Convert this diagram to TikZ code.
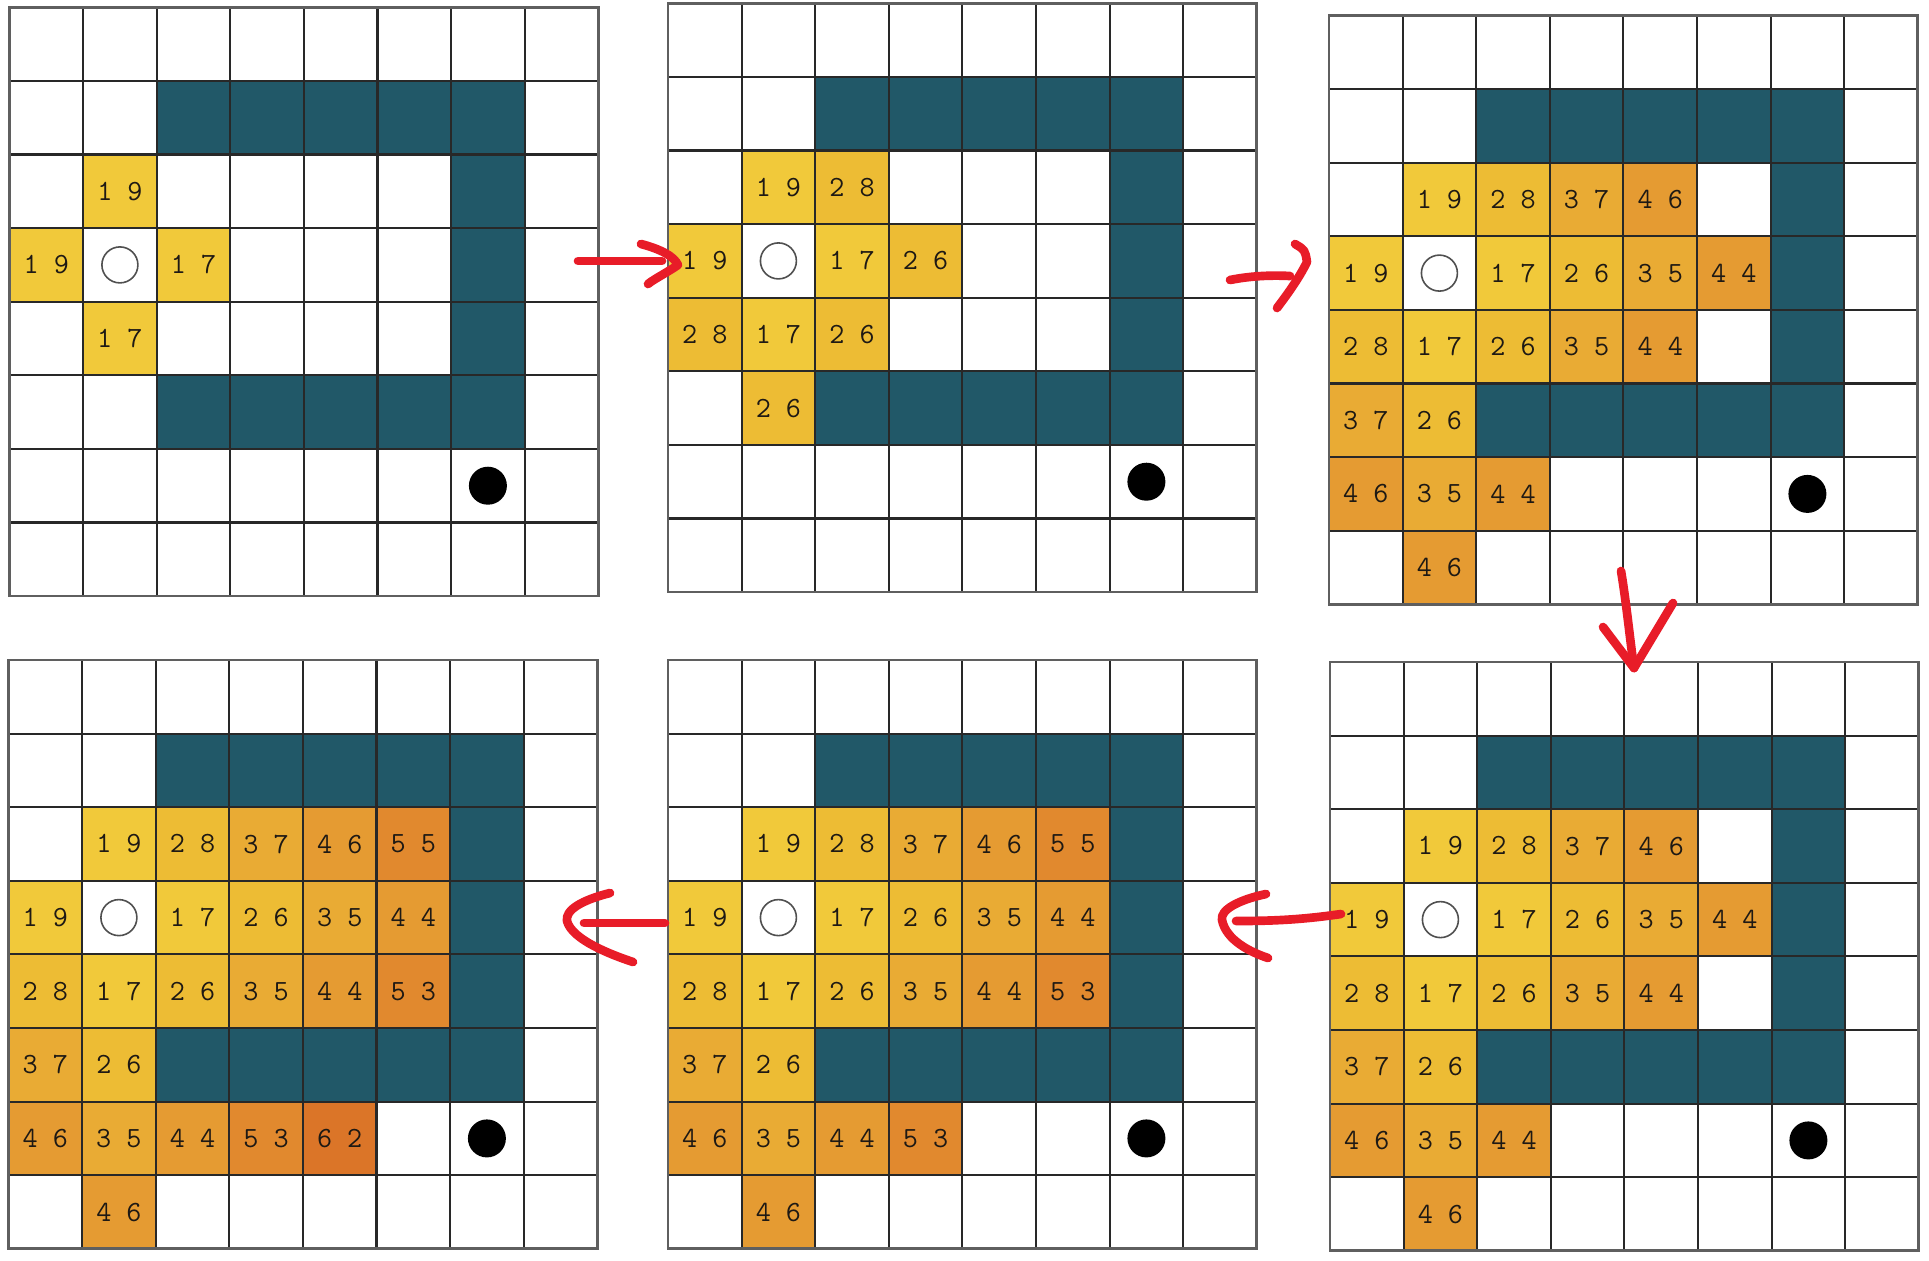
\documentclass[tikz,border=0pt]{standalone}
\usepackage{xcolor}

\definecolor{wallteal}{RGB}{33,88,104}
\definecolor{gold1}{RGB}{241,201,58}
\definecolor{gold2}{RGB}{237,188,52}
\definecolor{gold3}{RGB}{233,171,52}
\definecolor{gold4}{RGB}{229,155,50}
\definecolor{gold5}{RGB}{225,137,46}
\definecolor{gold6}{RGB}{219,117,40}
\definecolor{penred}{RGB}{232,28,40}

\tikzset{every picture/.style={line width=0.75pt}}
\tikzset{
  gridline/.style={draw={rgb, 255:red, 40; green, 40; blue, 40}, line width=1.6pt},
  frameline/.style={draw={rgb, 255:red, 95; green, 95; blue, 95}, line width=2pt},
  numtext/.style={font=\fontsize{22}{26}\ttfamily, text={rgb, 255:red, 30; green, 25; blue, 20}, inner sep=0pt},
  startmark/.style={circle, draw={rgb, 255:red, 80; green, 80; blue, 80}, fill=white, line width=1.2pt, minimum size=27pt, inner sep=0pt},
  goalmark/.style={circle, fill=black, minimum size=28.5pt, inner sep=0pt},
  penstroke/.style={draw=penred, line width=6.5pt, line cap=round, line join=round},
}

% cell with a value: grid, col, row, colour, text
\newcommand{\valcell}[5]{%
  \fill[#4] ({#2*73.6},{#3*73.6}) rectangle ++(73.6,73.6);
  \node[numtext] (g#1v#2#3) at ({(#2+0.5)*73.6},{(#3+0.5)*73.6}) {#5};}

\newcommand{\wallcells}{%
  \foreach \c in {2,...,6} {
    \fill[wallteal] ({\c*73.6},73.6) rectangle ++(73.6,73.6);
    \fill[wallteal] ({\c*73.6},{5*73.6}) rectangle ++(73.6,73.6);}
  \fill[wallteal] ({6*73.6},{2*73.6}) rectangle ++(73.6,{3*73.6});}

\newcommand{\gridlines}{%
  \foreach \k in {1,...,7} {
    \draw[gridline] ({\k*73.6},0) -- ({\k*73.6},588.8);
    \draw[gridline] (0,{\k*73.6}) -- (588.8,{\k*73.6});}
  \draw[frameline] (0,0) rectangle (588.8,588.8);}

\newcommand{\startgoal}[1]{%
  \node[startmark] (g#1start) at ({1.5*73.6},{3.5*73.6}) {};
  \node[goalmark] (g#1goal) at ({6.5*73.6},{6.5*73.6}) {};}

% cells reached by the third step
\newcommand{\thirdcells}[1]{%
  \foreach \c/\r/\k/\t in {1/2/gold1/{1 9},2/2/gold2/{2 8},3/2/gold3/{3 7},4/2/gold4/{4 6},
      0/3/gold1/{1 9},2/3/gold1/{1 7},3/3/gold2/{2 6},4/3/gold3/{3 5},5/3/gold4/{4 4},
      0/4/gold2/{2 8},1/4/gold1/{1 7},2/4/gold2/{2 6},3/4/gold3/{3 5},4/4/gold4/{4 4},
      0/5/gold3/{3 7},1/5/gold2/{2 6},
      0/6/gold4/{4 6},1/6/gold3/{3 5},2/6/gold4/{4 4},
      1/7/gold4/{4 6}}
    {\valcell{#1}{\c}{\r}{\k}{\t}}}

\begin{document}
\begin{tikzpicture}[x=0.75pt,y=0.75pt,yscale=-1]
\useasboundingbox (0,0) rectangle (1929,1260);
\fill[white] (0,0) rectangle (1929,1260);

% Grid 1
\begin{scope}[shift={(9.5,7.3)}]
\wallcells
\foreach \c/\r/\t in {1/2/{1 9},0/3/{1 9},2/3/{1 7},1/4/{1 7}}
  {\valcell{1}{\c}{\r}{gold1}{\t}}
\gridlines
\startgoal{1}
\end{scope}

% Grid 2
\begin{scope}[shift={(668,3.3)}]
\wallcells
\foreach \c/\r/\k/\t in {1/2/gold1/{1 9},2/2/gold2/{2 8},0/3/gold1/{1 9},2/3/gold1/{1 7},3/3/gold2/{2 6},
    0/4/gold2/{2 8},1/4/gold1/{1 7},2/4/gold2/{2 6},1/5/gold2/{2 6}}
  {\valcell{2}{\c}{\r}{\k}{\t}}
\gridlines
\startgoal{2}
\end{scope}

% Grid 3
\begin{scope}[shift={(1329,15.5)}]
\wallcells
\thirdcells{3}
\gridlines
\startgoal{3}
\end{scope}

% Grid 4
\begin{scope}[shift={(1330,662)}]
\wallcells
\thirdcells{4}
\gridlines
\startgoal{4}
\end{scope}

% Grid 5
\begin{scope}[shift={(668,660)}]
\wallcells
\thirdcells{5}
\valcell{5}{5}{2}{gold5}{5 5}
\valcell{5}{5}{4}{gold5}{5 3}
\valcell{5}{3}{6}{gold5}{5 3}
\gridlines
\startgoal{5}
\end{scope}

% Grid 6
\begin{scope}[shift={(8.5,660)}]
\wallcells
\thirdcells{6}
\valcell{6}{5}{2}{gold5}{5 5}
\valcell{6}{5}{4}{gold5}{5 3}
\valcell{6}{3}{6}{gold5}{5 3}
\valcell{6}{4}{6}{gold6}{6 2}
\gridlines
\startgoal{6}
\end{scope}

% Arrow ends
\coordinate (a1s) at (578,261);
\coordinate (a1e) at (662,261);
\coordinate (a1h) at (641,244);
\coordinate (a1t) at (678,265);
\coordinate (a1b) at (648,284);
\coordinate (a2s) at (1230,280);
\coordinate (a2e) at (1290,276);
\coordinate (a2h) at (1295,244);
\coordinate (a2t) at (1307,262);
\coordinate (a2b) at (1277,308);
\coordinate (a3s) at (1621,571);
\coordinate (a3t) at (1634,668);
\coordinate (a3l) at (1603,627);
\coordinate (a3r) at (1673,603);
\coordinate (a4s) at (1341,914);
\coordinate (a4e) at (1236,921);
\coordinate (a4h) at (1266,894);
\coordinate (a4t) at (1222,920);
\coordinate (a4b) at (1268,958);
\coordinate (a5s) at (665,923);
\coordinate (a5e) at (584,923);
\coordinate (a5h) at (610,893);
\coordinate (a5t) at (567,921);
\coordinate (a5b) at (633,962);

% Red arrows
\draw[penstroke] (a1s) -- (a1e);
\draw[penstroke] (a1h) .. controls (660,249) and (674,256) .. (a1t) .. controls (668,272) and (654,279) .. (a1b);
\draw[penstroke] (a2s) .. controls (1250,276) and (1270,275) .. (a2e);
\draw[penstroke] (a2h) .. controls (1305,250) .. (a2t) .. controls (1298,280) and (1286,296) .. (a2b);
\draw[penstroke] (a3s) .. controls (1626,600) and (1630,640) .. (a3t);
\draw[penstroke] (a3l) -- (a3t) -- (a3r);
\draw[penstroke] (a4s) .. controls (1300,920) and (1270,921) .. (a4e);
\draw[penstroke] (a4h) .. controls (1238,900) and (1220,910) .. (a4t) .. controls (1226,940) and (1250,952) .. (a4b);
\draw[penstroke] (a5s) -- (a5e);
\draw[penstroke] (a5h) .. controls (582,900) and (565,910) .. (a5t) .. controls (572,940) and (612,955) .. (a5b);

\end{tikzpicture}
\end{document}
